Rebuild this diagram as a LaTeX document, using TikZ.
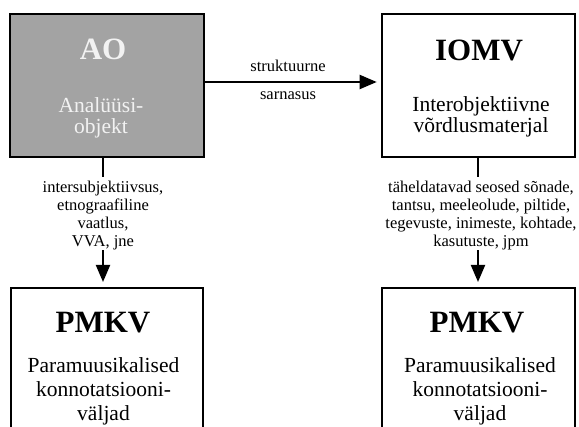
\documentclass[tikz,border=0pt]{standalone}
\usepackage{fontspec}
\setmainfont{Liberation Serif}
\usetikzlibrary{arrows.meta}
\definecolor{boxgray}{HTML}{A3A3A3}
\definecolor{paletext}{HTML}{F2F2F2}
\begin{document}
\begin{tikzpicture}[x=1pt,y=-1pt,
  box/.style={draw=black, line width=2pt, rectangle, inner sep=0pt},
  ttl/.style={anchor=base, inner sep=0pt, font=\fontsize{31}{31}\selectfont\bfseries},
  body/.style={anchor=base, inner sep=0pt, font=\fontsize{21.5}{21.5}\selectfont},
  small/.style={anchor=base, inner sep=0pt, font=\fontsize{16.5}{18}\selectfont},
  lbl/.style={anchor=north, inner sep=0pt, align=center, font=\fontsize{16.5}{18.2}\selectfont},
  conn/.style={line width=2pt},
  arr/.style={line width=2pt, -{Triangle[length=17pt,width=14pt]}}]
\path[use as bounding box] (0,0) rectangle (579,427);
\clip (0,0) rectangle (579,427);
% boxes
\node[box, fill=boxgray, minimum width=193.5pt, minimum height=143.5pt] (AO) at (106.75,85.75) {};
\node[box, fill=white, minimum width=193pt, minimum height=143.5pt] (IOMV) at (478.5,85.75) {};
\node[box, fill=white, minimum width=192.5pt, minimum height=151.5pt] (PL) at (106.75,364.25) {};
\node[box, fill=white, minimum width=193pt, minimum height=151.5pt] (PR) at (478.5,364.25) {};
% texts in boxes
\node[ttl, text=paletext] (aoT) at (103,60) {AO};
\node[body, text=paletext] (aoA) at (101,113) {Analüüsi-};
\node[body, text=paletext] (aoB) at (101,134) {objekt};
\node[ttl] (ioT) at (479,60.5) {IOMV};
\node[body] (ioA) at (481,112) {Interobjektiivne};
\node[body] (ioB) at (481,133) {võrdlusmaterjal};
\node[ttl] (plT) at (103,333) {PMKV};
\node[body] (plA) at (103.5,373) {Paramuusikalised};
\node[body] (plB) at (103.5,397) {konnotatsiooni-};
\node[body] (plC) at (103.5,421) {väljad};
\node[ttl] (prT) at (477,333) {PMKV};
\node[body] (prA) at (480,373) {Paramuusikalised};
\node[body] (prB) at (480,397) {konnotatsiooni-};
\node[body] (prC) at (480,421) {väljad};
% horizontal connector
\node[small] (s1) at (288,72) {struktuurne};
\node[small] (s2) at (288,100) {sarnasus};
\draw[arr, shorten >=4.3pt] ([yshift=3.75pt]AO.east) -- ([yshift=3.75pt]IOMV.west);
% left vertical
\node[lbl] (lblL) at (103,180.4) {intersubjektiivsus,\\etnograafiline\\vaatlus,\\VVA, jne};
\draw[conn, shorten >=3pt] (lblL.north |- AO.south) -- (lblL.north);
\draw[arr, shorten >=5.5pt] (lblL.south) -- (lblL.south |- PL.north);
% right vertical
\node[lbl] (lblR) at (481,180.4) {täheldatavad seosed sõnade,\\tantsu, meeleolude, piltide,\\tegevuste, inimeste, kohtade,\\kasutuste, jpm};
\draw[conn, shorten >=3pt] ([xshift=-3pt]lblR.north |- IOMV.south) -- ([xshift=-3pt]lblR.north);
\draw[arr, shorten >=5.5pt] ([xshift=-3pt]lblR.south) -- ([xshift=-3pt]lblR.south |- PR.north);
\end{tikzpicture}
\end{document}
